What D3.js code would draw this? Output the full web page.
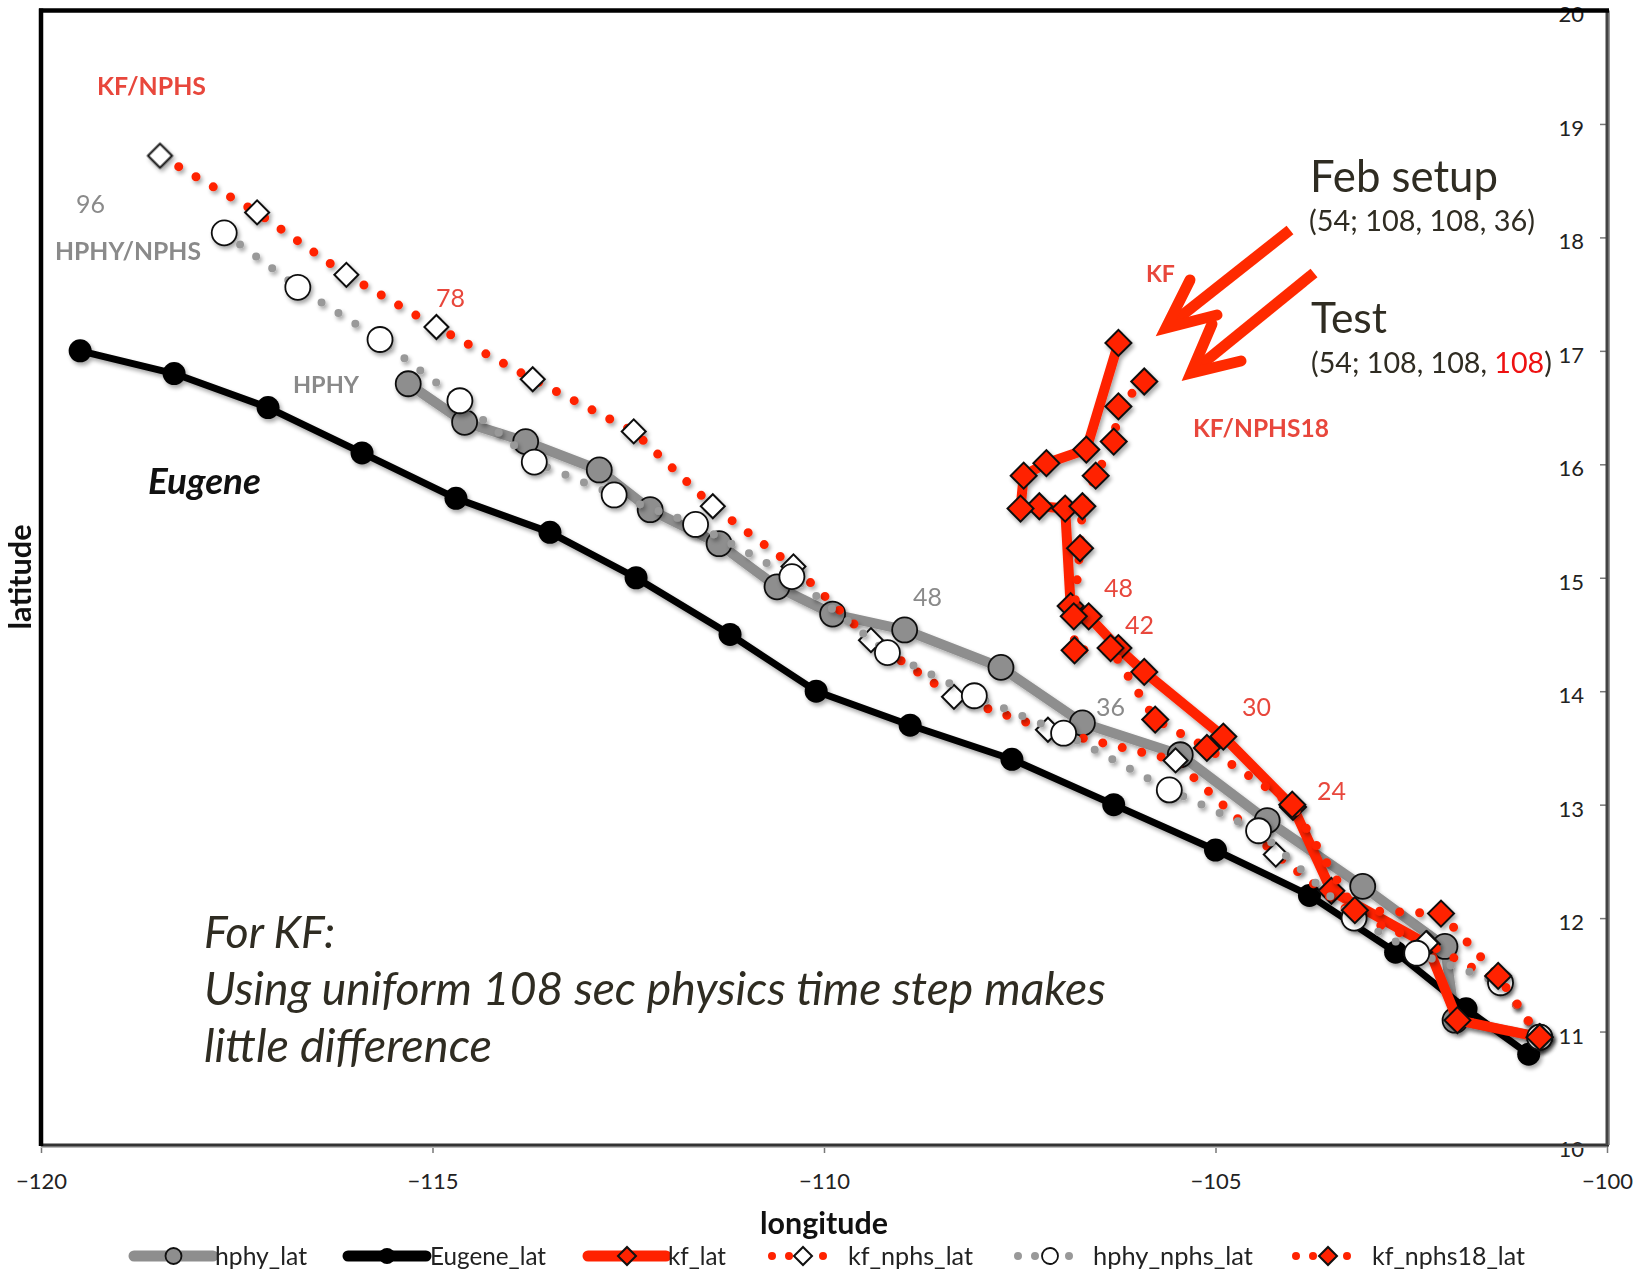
<!DOCTYPE html>
<html>
<head>
<meta charset="utf-8">
<script src="https://cdn.jsdelivr.net/npm/d3@7"></script>
<style>
  body { margin: 0; background: #fff; }
  text { font-family: Lato, "Open Sans", sans-serif; }
</style>
</head>
<body>
<svg id="chart"></svg>
<script>
// ---- data (lon / lat, 6-hourly, from the initial time outward) ----
const lonTicks = [-120, -115, -110, -105, -100];
const latTicks = [10, 11, 12, 13, 14, 15, 16, 17, 18, 19, 20];

const eugeneLon = [-101.0, -101.8, -102.7, -103.8, -105.0, -106.3, -107.6, -108.9, -110.1, -111.2, -112.4, -113.5, -114.7, -115.9, -117.1, -118.3, -119.5];
const eugeneLat = [10.8, 11.2, 11.7, 12.2, 12.6, 13.0, 13.4, 13.7, 14.0, 14.5, 15.0, 15.4, 15.7, 16.1, 16.5, 16.8, 17.0];

const hphyLon = [-100.86, -101.94, -102.07, -103.12, -104.34, -105.45, -106.70, -107.74, -108.97, -109.89, -110.60, -111.34, -112.22, -112.87, -113.81, -114.59, -115.31];
const hphyLat = [10.95, 11.10, 11.75, 12.28, 12.86, 13.44, 13.72, 14.21, 14.54, 14.68, 14.92, 15.30, 15.60, 15.95, 16.20, 16.37, 16.71];

const kfLon = [-100.86, -101.91, -102.30, -103.52, -104.01, -104.90, -105.91, -106.24, -106.62, -106.85, -106.92, -107.25, -107.49, -107.45, -107.16, -106.65, -106.24];
const kfLat = [10.95, 11.10, 11.77, 12.24, 12.98, 13.60, 14.17, 14.38, 14.66, 14.75, 15.61, 15.63, 15.61, 15.90, 16.01, 16.13, 17.07];

const kfNphsLon = [-100.86, -101.36, -102.31, -103.24, -104.23, -105.51, -107.14, -108.34, -109.40, -110.39, -111.42, -112.43, -113.72, -114.95, -116.10, -117.24, -118.48];
const kfNphsLat = [10.95, 11.43, 11.78, 12.03, 12.56, 13.39, 13.66, 13.95, 14.45, 15.10, 15.63, 16.29, 16.75, 17.21, 17.67, 18.22, 18.72];

const hphyNphsLon = [-100.86, -101.36, -102.43, -103.23, -104.45, -105.59, -106.94, -108.08, -109.19, -110.41, -111.64, -112.68, -113.70, -114.65, -115.67, -116.72, -117.66];
const hphyNphsLat = [10.95, 11.43, 11.69, 12.00, 12.77, 13.13, 13.63, 13.96, 14.34, 15.01, 15.47, 15.73, 16.02, 16.56, 17.10, 17.56, 18.04];

const kfNphs18Lon = [-100.86, -101.39, -102.12, -103.22, -104.02, -105.11, -105.77, -106.34, -106.80, -106.81, -106.73, -106.70, -106.53, -106.30, -106.24, -105.91];
const kfNphs18Lat = [10.95, 11.49, 12.04, 12.07, 13.00, 13.50, 13.75, 14.38, 14.36, 14.66, 15.26, 15.63, 15.90, 16.20, 16.51, 16.73];

const RED = "#ff2200";
const GRAY = "#8e8e8e";
const LABEL_RED = "#e8473c";
const LABEL_GRAY = "#8a8a8a";
const DARK = "#2f2c22";

const series = [
    { name: "hphy_lat", lon: hphyLon, lat: hphyLat, stroke: GRAY, width: 10, dotted: false, marker: "circle", fill: GRAY, size: 12.5 },
    { name: "Eugene_lat", lon: eugeneLon, lat: eugeneLat, stroke: "#000", width: 7, dotted: false, marker: "dot", fill: "#000", size: 11.5 },
    { name: "kf_lat", lon: kfLon, lat: kfLat, stroke: RED, width: 10, dotted: false, marker: "diamond", fill: RED, size: 13 },
    { name: "kf_nphs_lat", lon: kfNphsLon, lat: kfNphsLat, stroke: RED, width: 9, dotted: true, marker: "diamond", fill: "#fff", size: 12 },
    { name: "hphy_nphs_lat", lon: hphyNphsLon, lat: hphyNphsLat, stroke: "#999", width: 8, dotted: true, marker: "circle", fill: "#fff", size: 12.5 },
    { name: "kf_nphs18_lat", lon: kfNphs18Lon, lat: kfNphs18Lat, stroke: RED, width: 9, dotted: true, marker: "diamond", fill: RED, size: 13 }
];

// ---- layout ----
const width = 1639, height = 1275;
const x = d3.scaleLinear().domain([-120, -100]).range([41, 1607]);
const y = d3.scaleLinear().domain([10, 20]).range([1145, 10.5]);

const svg = d3.select("#chart")
    .attr("width", width)
    .attr("height", height)
    .attr("viewBox", [0, 0, width, height]);

const defs = svg.append("defs");
const shadow = defs.append("filter")
    .attr("id", "shadow")
    .attr("filterUnits", "userSpaceOnUse")
    .attr("x", 0).attr("y", 0).attr("width", width).attr("height", height);
shadow.append("feGaussianBlur").attr("in", "SourceAlpha").attr("stdDeviation", 2.2);
shadow.append("feOffset").attr("dx", 2).attr("dy", 3).attr("result", "off");
shadow.append("feComponentTransfer").append("feFuncA").attr("type", "linear").attr("slope", 0.35);
const merge = shadow.append("feMerge");
merge.append("feMergeNode");
merge.append("feMergeNode").attr("in", "SourceGraphic");

function fit(sel, w) {
    const cur = sel.node().getComputedTextLength();
    const fs = parseFloat(sel.attr("font-size"));
    if (cur > 0) sel.attr("font-size", (fs * w / cur).toFixed(2));
    return sel;
}

function drawMarker(g, s, cx, cy, r) {
    if (s.marker === "diamond") {
        g.append("path")
            .attr("d", d3.symbol(d3.symbolSquare, 2 * r * r)())
            .attr("transform", `translate(${cx},${cy}) rotate(45)`)
            .attr("fill", s.fill)
            .attr("stroke", "#111")
            .attr("stroke-width", 2);
    } else {
        g.append("circle")
            .attr("cx", cx).attr("cy", cy).attr("r", r)
            .attr("fill", s.fill)
            .attr("stroke", s.marker === "dot" ? "none" : "#111")
            .attr("stroke-width", 1.8);
    }
}

// ---- axes ----
const xAxis = svg.append("g")
    .attr("transform", `translate(0,${y(10)})`)
    .call(d3.axisBottom(x).tickValues(lonTicks).tickSize(8).tickPadding(20));
xAxis.select(".domain").remove();
xAxis.selectAll(".tick line").attr("stroke", "#777").attr("stroke-width", 1.5);
xAxis.selectAll("text").attr("font-size", 22).attr("fill", "#222")
    .attr("font-family", "Lato, sans-serif");

const yAxis = svg.append("g")
    .attr("transform", `translate(${x(-100)},0)`)
    .call(d3.axisLeft(y).tickValues(latTicks).tickSize(7).tickPadding(16));
yAxis.select(".domain").remove();
yAxis.selectAll(".tick line").attr("stroke", "#777").attr("stroke-width", 1.5);
yAxis.selectAll("text").attr("font-size", 22).attr("fill", "#222")
    .attr("font-family", "Lato, sans-serif")
    .attr("dy", "0.52em");

// ---- series ----
const line = d3.line()
    .x(d => x(d[0]))
    .y(d => y(d[1]));

for (const s of series) {
    const pts = s.lon.map((lon, i) => [lon, s.lat[i]]);
    const g = svg.append("g").attr("filter", "url(#shadow)");
    g.append("path")
        .datum(pts)
        .attr("d", line)
        .attr("fill", "none")
        .attr("stroke", s.stroke)
        .attr("stroke-width", s.width)
        .attr("stroke-linejoin", "round")
        .attr("stroke-linecap", "round")
        .attr("stroke-dasharray", s.dotted ? "0 20" : null);
    for (const p of pts) drawMarker(g, s, x(p[0]), y(p[1]), s.size);
}

// ---- plot frame ----
svg.append("line").attr("x1", x(-120)).attr("x2", x(-100)).attr("y1", y(10) + 2).attr("y2", y(10) + 2)
    .attr("stroke", "#bbb").attr("stroke-width", 2);
svg.append("line").attr("x1", x(-120)).attr("x2", x(-100) + 2).attr("y1", y(10)).attr("y2", y(10))
    .attr("stroke", "#333").attr("stroke-width", 3);
svg.append("line").attr("x1", x(-100) + 2).attr("x2", x(-100) + 2).attr("y1", y(20)).attr("y2", y(10))
    .attr("stroke", "#999").attr("stroke-width", 2);
svg.append("line").attr("x1", x(-100)).attr("x2", x(-100)).attr("y1", y(20)).attr("y2", y(10))
    .attr("stroke", "#444").attr("stroke-width", 3);
svg.append("line").attr("x1", x(-120)).attr("x2", x(-120)).attr("y1", y(20) - 2).attr("y2", y(10) + 1)
    .attr("stroke", "#000").attr("stroke-width", 4.5);
svg.append("line").attr("x1", x(-120) - 2).attr("x2", x(-100) + 2).attr("y1", y(20)).attr("y2", y(20))
    .attr("stroke", "#000").attr("stroke-width", 4.5);

// ---- axis titles ----
fit(svg.append("text")
    .attr("x", 824).attr("y", 1234)
    .attr("text-anchor", "middle")
    .attr("font-size", 27).attr("font-weight", "bold").attr("fill", "#111")
    .text("longitude"), 128);
fit(svg.append("text")
    .attr("transform", "translate(31,577) rotate(-90)")
    .attr("text-anchor", "middle")
    .attr("font-size", 27).attr("font-weight", "bold").attr("fill", "#111")
    .text("latitude"), 105);

// ---- in-plot labels ----
const labels = [
    { t: "KF/NPHS", x: 97, y: 95, c: LABEL_RED, b: true, w: 109 },
    { t: "96", x: 76, y: 213, c: LABEL_GRAY, b: false, w: 29 },
    { t: "HPHY/NPHS", x: 55, y: 260, c: LABEL_GRAY, b: true, w: 146 },
    { t: "78", x: 436, y: 307, c: LABEL_RED, b: false, w: 29 },
    { t: "HPHY", x: 293, y: 393, c: LABEL_GRAY, b: true, w: 66 },
    { t: "48", x: 913, y: 606, c: LABEL_GRAY, b: false, w: 29 },
    { t: "36", x: 1096, y: 716, c: LABEL_GRAY, b: false, w: 29 },
    { t: "48", x: 1104, y: 597, c: LABEL_RED, b: false, w: 29 },
    { t: "42", x: 1125, y: 634, c: LABEL_RED, b: false, w: 29 },
    { t: "30", x: 1242, y: 716, c: LABEL_RED, b: false, w: 29 },
    { t: "24", x: 1317, y: 800, c: LABEL_RED, b: false, w: 29 },
    { t: "KF", x: 1146, y: 282, c: LABEL_RED, b: true, w: 29 },
    { t: "KF/NPHS18", x: 1193, y: 437, c: LABEL_RED, b: true, w: 136 }
];
for (const l of labels) {
    const t = svg.append("text")
        .attr("x", l.x).attr("y", l.y)
        .attr("font-size", 26)
        .attr("font-weight", l.b ? "bold" : "normal")
        .attr("fill", l.c)
        .text(l.t);
    fit(t, l.w);
}

fit(svg.append("text")
    .attr("x", 148).attr("y", 494)
    .attr("font-size", 30).attr("font-weight", "bold").attr("font-style", "italic")
    .attr("fill", "#111")
    .text("Eugene"), 113);

// ---- setup notes ----
fit(svg.append("text").attr("x", 1310).attr("y", 192)
    .attr("font-size", 44).attr("fill", DARK).text("Feb setup"), 188);
fit(svg.append("text").attr("x", 1309).attr("y", 231)
    .attr("font-size", 28).attr("fill", DARK).text("(54; 108, 108, 36)"), 226);
fit(svg.append("text").attr("x", 1311).attr("y", 333)
    .attr("font-size", 44).attr("fill", DARK).text("Test"), 76);
const testNote = svg.append("text").attr("x", 1311).attr("y", 373)
    .attr("font-size", 28).attr("fill", DARK);
testNote.append("tspan").text("(54; 108, 108, ");
testNote.append("tspan").attr("fill", "#ee1111").text("108");
testNote.append("tspan").text(")");
fit(testNote, 241);

const noteLines = [
    { t: "For KF:", y: 948, w: 131 },
    { t: "Using uniform 108 sec physics time step makes", y: 1005, w: 902 },
    { t: "little difference", y: 1062, w: 288 }
];
for (const n of noteLines) {
    fit(svg.append("text")
        .attr("x", 204).attr("y", n.y)
        .attr("font-size", 41).attr("font-style", "italic")
        .attr("fill", DARK)
        .text(n.t), n.w);
}

// ---- arrows ----
const arrows = [
    { shaft: [[1290, 230], [1166, 328]], head: [[1190, 280], [1166, 328], [1217, 315]] },
    { shaft: [[1314, 273], [1191, 373]], head: [[1212, 324], [1191, 373], [1241, 361]] }
];
const arrowLine = d3.line();
for (const a of arrows) {
    svg.append("path").attr("d", arrowLine(a.shaft))
        .attr("fill", "none").attr("stroke", "#ff2a00").attr("stroke-width", 11);
    svg.append("path").attr("d", arrowLine(a.head))
        .attr("fill", "none").attr("stroke", "#ff2a00").attr("stroke-width", 11)
        .attr("stroke-linecap", "round").attr("stroke-linejoin", "miter");
}

// ---- legend ----
const legendY = 1256;
const legendPos = [
    { x0: 134, x1: 213, tx: 215, tw: 92 },
    { x0: 348, x1: 426, tx: 430, tw: 116 },
    { x0: 588, x1: 666, tx: 668, tw: 58 },
    { x0: 768, x1: 838, tx: 848, tw: 125 },
    { x0: 1014, x1: 1086, tx: 1093, tw: 160 },
    { x0: 1292, x1: 1364, tx: 1372, tw: 153 }
];
series.forEach((s, i) => {
    const p = legendPos[i];
    const g = svg.append("g");
    g.append("line")
        .attr("x1", p.x0 + (s.dotted ? 4 : 0)).attr("x2", p.x1)
        .attr("y1", legendY).attr("y2", legendY)
        .attr("stroke", s.stroke)
        .attr("stroke-width", s.dotted ? 8 : 11)
        .attr("stroke-linecap", "round")
        .attr("stroke-dasharray", s.dotted ? "0 17" : null);
    drawMarker(g, s, (p.x0 + p.x1) / 2, legendY, s.marker === "diamond" ? 9 : 8);
    fit(g.append("text")
        .attr("x", p.tx).attr("y", legendY + 9)
        .attr("font-size", 22).attr("fill", "#222")
        .text(s.name), p.tw);
});
</script>
</body>
</html>
